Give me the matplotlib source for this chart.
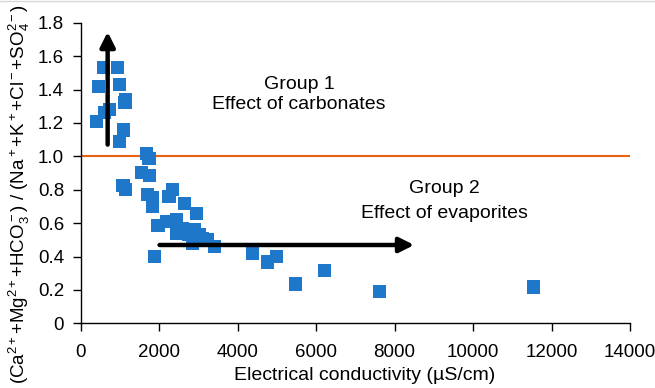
import matplotlib
matplotlib.use("Agg")
import matplotlib.pyplot as plt
from matplotlib.lines import Line2D

plt.rcParams['font.family'] = ['Liberation Sans', 'DejaVu Sans']
plt.rcParams['mathtext.fontset'] = 'custom'
plt.rcParams['mathtext.rm'] = 'Liberation Sans'
plt.rcParams['mathtext.it'] = 'Liberation Sans'
plt.rcParams['mathtext.default'] = 'regular'

# Data: electrical conductivity (uS/cm) vs ionic ratio
ec = [578, 941, 450, 992, 1127, 1150, 740, 600, 407, 1087, 992,
      1670, 1740, 1545, 1755, 1080, 1150, 1705, 1830, 1830,
      2330, 2250, 2650, 2945, 1970, 2180, 2435, 2435, 2900, 3030,
      3230, 3410, 1880, 2600, 2750, 2850, 3100,
      4380, 4760, 4990, 5470, 6210, 7610, 11550]
ratio = [1.534, 1.534, 1.417, 1.432, 1.321, 1.341, 1.280, 1.260, 1.209, 1.158, 1.087,
         1.016, 0.986, 0.905, 0.885, 0.824, 0.803, 0.769, 0.750, 0.698,
         0.803, 0.758, 0.719, 0.659, 0.588, 0.609, 0.619, 0.540, 0.559, 0.530,
         0.499, 0.459, 0.398, 0.570, 0.530, 0.479, 0.509,
         0.418, 0.367, 0.398, 0.235, 0.316, 0.190, 0.217]

x_ticks = [0, 2000, 4000, 6000, 8000, 10000, 12000, 14000]
y_ticks = [0, 0.2, 0.4, 0.6, 0.8, 1.0, 1.2, 1.4, 1.6, 1.8]
y_tick_labels = ['0', '0.2', '0.4', '0.6', '0.8', '1.0', '1.2', '1.4', '1.6', '1.8']

fig = plt.figure(figsize=(6.55, 3.88), dpi=100)
ax = fig.add_axes([0.1232, 0.1667, 0.8386, 0.7748])

ax.axhline(1.0, color='#E8620F', lw=1.5, zorder=1)
ax.scatter(ec, ratio, marker='s', s=90, color='#1F77C9', edgecolors='none', zorder=2,
           clip_on=False)

# arrows
ax.annotate('', xy=(687, 1.745), xytext=(687, 1.07),
            arrowprops=dict(arrowstyle='-|>', color='black', lw=3.2,
                            mutation_scale=22, shrinkA=0, shrinkB=0), zorder=3,
            annotation_clip=False)
ax.annotate('', xy=(8500, 0.469), xytext=(2010, 0.469),
            arrowprops=dict(arrowstyle='-|>', color='black', lw=3.2,
                            mutation_scale=22, shrinkA=0, shrinkB=0), zorder=3)

ax.text(5570, 1.427, 'Group 1', ha='center', va='center', fontsize=14)
ax.text(5570, 1.313, 'Effect of carbonates', ha='center', va='center', fontsize=14)
ax.text(9260, 0.81, 'Group 2', ha='center', va='center', fontsize=14)
ax.text(9260, 0.66, 'Effect of evaporites', ha='center', va='center', fontsize=14)

ax.set_xlim(0, 14000)
ax.set_ylim(0, 1.8)
ax.set_xticks(x_ticks)
ax.set_xticklabels([str(t) for t in x_ticks])
ax.set_yticks(y_ticks)
ax.set_yticklabels(y_tick_labels)
ax.tick_params(axis='both', labelsize=13.5, direction='out', length=6, width=1, colors='black')
ax.tick_params(axis='x', pad=9)
ax.tick_params(axis='y', pad=6)

for s in ['top', 'right']:
    ax.spines[s].set_visible(False)
for s in ['left', 'bottom']:
    ax.spines[s].set_linewidth(1.0)
    ax.spines[s].set_color('black')

ax.set_xlabel('Electrical conductivity (µS/cm)', fontsize=14)
ax.xaxis.set_label_coords(0.516, -0.145)
ax.set_ylabel(r'(Ca$^{2+}$+Mg$^{2+}$+HCO$_3^-$) / (Na$^+$+K$^+$+Cl$^-$+SO$_4^{2-}$)',
              fontsize=13.5)
ax.yaxis.set_label_coords(-0.089, 0.43)

fig.add_artist(Line2D([0, 1], [0.998, 0.998], color='#d8d8d8', lw=1, transform=fig.transFigure))

fig.savefig('out.png', dpi=100)
